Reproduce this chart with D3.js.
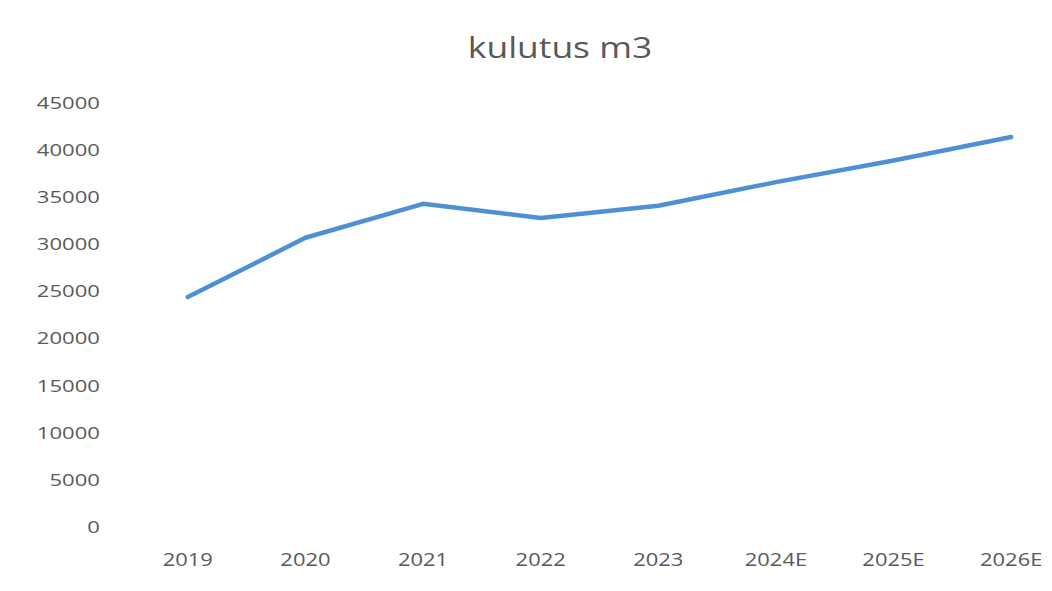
<!DOCTYPE html>
<html>
<head>
<meta charset="utf-8">
<script src="https://cdn.jsdelivr.net/npm/d3@7"></script>
<style>
  body { margin: 0; background: #fff; }
  text { font-family: "Open Sans", "DejaVu Sans", sans-serif; fill: #595959; }
</style>
</head>
<body>
<div id="chart"></div>
<script>
// chart data
var years = ["2019", "2020", "2021", "2022", "2023", "2024E", "2025E", "2026E"];
var kulutus = [24400, 30700, 34300, 32800, 34100, 36600, 38900, 41400];
var yTicks = [0, 5000, 10000, 15000, 20000, 25000, 30000, 35000, 40000, 45000];

var width = 1052,
    height = 591;

var svg = d3.select("#chart").append("svg")
    .attr("width", width)
    .attr("height", height);

// set the ranges
var x = d3.scaleBand()
    .domain(years)
    .range([129, 1070]);

var y = d3.scaleLinear()
    .domain([0, 45000])
    .range([527, 103]);

// title (the original is a bit stretched sideways)
svg.append("text")
    .attr("transform", "translate(560,58) scale(1.18,1)")
    .attr("text-anchor", "middle")
    .style("font-size", "30px")
    .text("kulutus m3");

// y axis labels
var yAxis = svg.append("g")
    .attr("transform", "translate(100,0)")
    .call(d3.axisLeft(y).tickValues(yTicks).tickFormat(d3.format("d")).tickSize(0).tickPadding(0));
yAxis.select(".domain").remove();
yAxis.selectAll("text")
    .attr("transform", "scale(1.3,1)")
    .style("font-size", "17px")
    .style("fill", "#595959")
    .style("font-family", "'Open Sans', sans-serif");

// x axis labels
var xAxis = svg.append("g")
    .attr("transform", "translate(0,553)")
    .call(d3.axisBottom(x).tickSize(0).tickPadding(0));
xAxis.select(".domain").remove();
xAxis.selectAll("text")
    .attr("transform", "scale(1.22,1)")
    .style("font-size", "18px")
    .style("fill", "#595959")
    .style("font-family", "'Open Sans', sans-serif");

// the line
var line = d3.line()
    .x(function (d, i) { return x(years[i]) + x.bandwidth() / 2; })
    .y(function (d) { return y(d); });

svg.append("path")
    .datum(kulutus)
    .attr("fill", "none")
    .attr("stroke", "#4f8fd3")
    .attr("stroke-width", 4.5)
    .attr("stroke-linejoin", "round")
    .attr("stroke-linecap", "round")
    .attr("d", line);
</script>
</body>
</html>
